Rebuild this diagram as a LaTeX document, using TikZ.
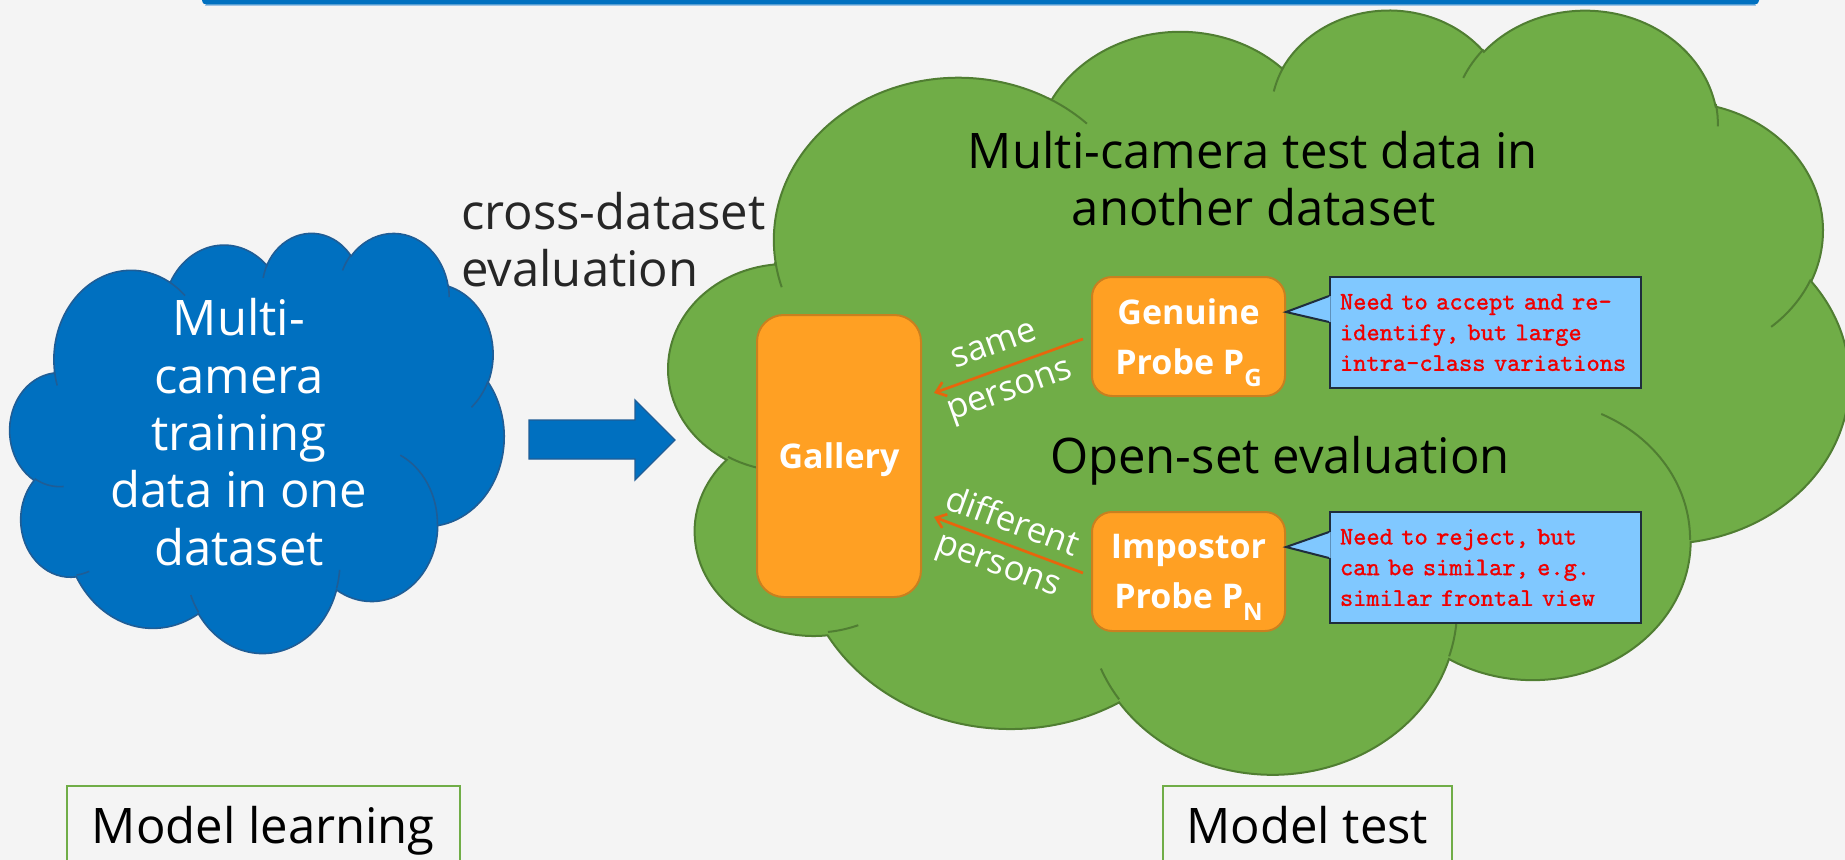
\documentclass[tikz,border=0pt]{standalone}
\usepackage{fontspec}
\setmainfont{Open Sans}
\newfontfamily\calloutfont[FakeBold=1.2]{lmmono10-regular.otf}
\usetikzlibrary{calc,arrows.meta}

\definecolor{bg}{HTML}{F4F4F4}
\definecolor{barblue}{HTML}{0070C0}
\definecolor{barline}{HTML}{9DC3E6}
\definecolor{cloudblue}{HTML}{0070C0}
\definecolor{cloudblueline}{HTML}{1F5D96}
\definecolor{cloudgreen}{HTML}{70AD47}
\definecolor{cloudgreenline}{HTML}{507E32}
\definecolor{boxorange}{HTML}{FFA023}
\definecolor{boxorangeline}{HTML}{C9801F}
\definecolor{arrorange}{HTML}{E8650C}
\definecolor{calloutblue}{HTML}{80C8FF}
\definecolor{calloutline}{HTML}{1F2D3D}
\definecolor{darktext}{HTML}{262626}
\definecolor{modelgreen}{HTML}{70AD47}
\definecolor{calloutred}{HTML}{F00000}

\newcommand\bigfont{\fontsize{36.75pt}{44pt}\selectfont}
\newcommand\boxfont{\fontsize{25.5pt}{37.5pt}\selectfont\bfseries}
\newcommand\lblfont{\fontsize{26pt}{30pt}\selectfont}
\newcommand\monofont{\calloutfont\fontsize{18.9pt}{23pt}\selectfont}
\newcommand\psub[1]{\raisebox{-9pt}{\fontsize{18pt}{18pt}\selectfont #1}}

% One elliptic arc of a cloud outline: radii, start angle and sweep given as
% angles seen on the ellipse; converted to parametric angles for TikZ.
\newcommand\cloudcalc[4]{%
  \pgfmathparse{atan2((#1)*sin(#3),(#2)*cos(#3))}\xdef\ctS{\pgfmathresult}%
  \pgfmathparse{atan2((#1)*sin((#3)+(#4)),(#2)*cos((#3)+(#4)))}\xdef\ctE{\pgfmathresult}%
  \pgfmathparse{(\ctE)-(\ctS)}\xdef\ctD{\pgfmathresult}%
  \pgfmathparse{(\ctD)+360*(((#4)>0)*((\ctD)<0))-360*(((#4)<0)*((\ctD)>0))}\xdef\ctD{\pgfmathresult}%
}
\newcommand\carc[4]{\pgfextra{\cloudcalc{#1}{#2}{#3}{#4}} arc[start angle=\ctS, delta angle=\ctD, x radius=#1, y radius=#2]}

% Cloud outline in a 43.2 x 43.2 box (y pointing down)
\newcommand\cloudoutline{(3.9,14.37)
 \carc{6.753}{9.19}{-190.48748}{123.78053}
 \carc{5.333}{7.267}{-144.10238}{89.94523}
 \carc{4.365}{5.945}{-145.80792}{99.72302}
 \carc{4.857}{6.595}{-130.98607}{117.24173}
 \carc{5.333}{7.273}{-78.70888}{109.02692}
 \carc{6.775}{9.22}{-46.26725}{130.269}
 \carc{5.785}{7.867}{0.62502}{114.03333}
 \carc{6.752}{9.215}{22.4516}{115.17255}
 \carc{7.72}{10.543}{66.24263}{75.71102}
 \carc{4.36}{5.918}{-274.94208}{146.73557}
 \carc{4.345}{5.945}{-246.8285}{152.51885} -- cycle}

% Inner crease lines of the cloud
\newcommand\cloudcreases{
 (4.693,26.177) \carc{4.345}{5.945}{86.742}{26.4295}
 (6.928,34.899) \carc{4.36}{5.918}{73.61047}{11.44747}
 (16.478,39.09) \carc{6.752}{9.215}{137.62415}{14.0811}
 (28.827,34.751) \carc{6.752}{9.215}{6.45327}{15.99835}
 (34.129,22.954) \carc{5.785}{7.867}{-70.29235}{70.91737}
 (41.798,15.354) \carc{5.333}{7.273}{30.31803}{27.7515}
 (38.324,5.426) \carc{4.857}{6.595}{-13.74433}{14.8589}
 (29.078,3.952) \carc{4.857}{6.595}{-149.18145}{18.19537}
 (22.141,4.72) \carc{4.365}{5.945}{-163.49427}{17.68635}
 (14,5.192) \carc{6.753}{9.19}{-66.70695}{12.31935}
 (4.127,15.789) \carc{6.753}{9.19}{157.65435}{11.85817}}

\begin{document}
\begin{tikzpicture}[x=0.75pt, y=-0.75pt,
  bigtxt/.style={font=\bigfont, inner sep=0pt},
  lbltxt/.style={font=\lblfont, text=white, inner sep=0pt},
  obox/.style={draw=boxorangeline, fill=boxorange, line width=1.5pt, rounded corners=15pt,
    inner sep=0pt, font=\boxfont, text=white, align=center, text depth=0pt},
  callbox/.style={draw=calloutline, fill=calloutblue, line width=1.5pt, inner xsep=7.5pt, inner ysep=0pt,
    font=\monofont, text=calloutred, align=left, text width=218.25pt, minimum height=83.25pt},
  parr/.style={draw=arrorange, line width=2pt, -{Straight Barb[length=7pt,width=11pt]}},
  modelbox/.style={draw=modelgreen, line width=1.2pt, inner sep=0pt, font=\bigfont, text depth=0pt,
    minimum height=58.5pt, anchor=north west},
  blockarrow/.style={fill=cloudblue, draw=cloudblueline, line width=1pt}]

\useasboundingbox (0,0) rectangle (1845,860);
\clip (0,0) rectangle (1845,860);
\fill[bg] (0,0) rectangle (1845,860);

% title bar
\fill[barblue, rounded corners=3pt] (202,-10) rectangle (1759,4.5);
\draw[barline, line width=0.6pt] (205,5.2) -- (1756,5.2);

% training cloud
\begin{scope}[shift={(10,232)}, xscale=494/43.2, yscale=420/43.2]
  \path[fill=cloudblue, draw=cloudblueline, line width=1.2pt] \cloudoutline;
  \path[draw=cloudblueline, line width=1.2pt] \cloudcreases;
\end{scope}

% test cloud
\begin{scope}[shift={(669,8)}, xscale=1180/43.2, yscale=764/43.2]
  \path[fill=cloudgreen, draw=cloudgreenline, line width=1.5pt] \cloudoutline;
  \path[draw=cloudgreenline, line width=1.5pt] \cloudcreases;
\end{scope}

% training cloud text
\node[bigtxt, text=white, anchor=base] (tr1) at (239,335) {Multi-};
\node[bigtxt, text=white, anchor=base] (tr2) at (239,393) {camera};
\node[bigtxt, text=white, anchor=base] (tr3) at (239,450) {training};
\node[bigtxt, text=white, anchor=base] (tr4) at (239,507) {data in one};
\node[bigtxt, text=white, anchor=base] (tr5) at (239,565) {dataset};

% cross-dataset block arrow
\draw[blockarrow] (529,420) -- (635,420) -- (635,400) -- (675,440) -- (635,480) -- (635,459) -- (529,459) -- cycle;
\node[bigtxt, text=darktext, anchor=base west] (cd1) at (461,229) {cross-dataset};
\node[bigtxt, text=darktext, anchor=base west] (cd2) at (461,286) {evaluation};

% test cloud titles
\node[bigtxt, anchor=base] (tt1) at (1253,168) {Multi-camera test data in};
\node[bigtxt, anchor=base] (tt2) at (1254,225) {another dataset};
\node[bigtxt, anchor=base] (os) at (1280,473) {Open-set evaluation};

% gallery and probes
\node[obox, rounded corners=20pt, minimum width=123pt, minimum height=211.5pt] (gal) at (839,456) {Gallery};
\node[obox, minimum width=144.75pt, minimum height=89.25pt] (gen) at (1188.5,336.5) {Genuine\\Probe P\psub{G}};
\node[obox, minimum width=144.75pt, minimum height=89.25pt] (imp) at (1188.5,571.5) {Impostor\\Probe P\psub{N}};

% probe-to-gallery arrows
\draw[parr] ($(gen.west)+(-8,2.5)$) -- ($(gal.east)+(12,-63)$);
\node[lbltxt, rotate=19.7] (same1) at (994,345) {same};
\node[lbltxt, rotate=19.7] (same2) at (1011,394) {persons};
\draw[parr] ($(imp.west)+(-8,1.5)$) -- ($(gal.east)+(12,61)$);
\node[lbltxt, rotate=-20.3] (diff1) at (1013,520) {different};
\node[lbltxt, rotate=-20.3] (diff2) at (997,569) {persons};

% callouts
\node[callbox, minimum width=233.25pt] (c1) at (1485.5,332.5)
  {Need to accept and re-\\identify, but large\\intra-class variations};
\fill[calloutblue] ($(c1.west)+(1.5,-36.5)$) -- ($(gen.east)+(0,-24.5)$) -- ($(c1.west)+(1.5,-10.5)$) -- cycle;
\draw[calloutline, line width=1.5pt] ($(c1.west)+(0,-36.5)$) -- ($(gen.east)+(0,-24.5)$) -- ($(c1.west)+(0,-10.5)$);

\node[callbox, minimum width=233.25pt] (c2) at (1485.5,567.5)
  {Need to reject, but\\can be similar, e.g.\\similar frontal view};
\fill[calloutblue] ($(c2.west)+(1.5,-35.5)$) -- ($(imp.east)+(0,-24.5)$) -- ($(c2.west)+(1.5,-9.5)$) -- cycle;
\draw[calloutline, line width=1.5pt] ($(c2.west)+(0,-35.5)$) -- ($(imp.east)+(0,-24.5)$) -- ($(c2.west)+(0,-9.5)$);

% stage captions
\node[modelbox, minimum width=294.75pt] (ml) at (66,785) {Model learning};
\node[modelbox, minimum width=216.75pt] (mt) at (1162,785) {Model test};

\end{tikzpicture}
\end{document}
